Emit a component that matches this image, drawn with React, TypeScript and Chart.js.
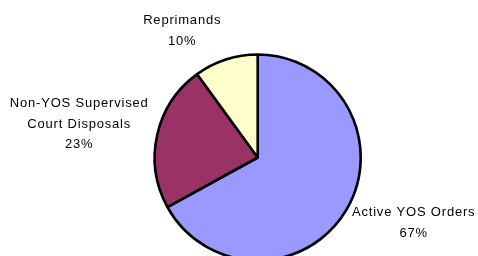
import React, { useEffect, useRef } from "react";
import { Chart, registerables } from "chart.js";

Chart.register(...registerables);

const categories = ["Active YOS Orders", "Non-YOS Supervised Court Disposals", "Reprimands"];
const labelLines = [["Active YOS Orders"], ["Non-YOS Supervised", "Court Disposals"], ["Reprimands"]];
const values = [67, 23, 10];
const colors = ["#9999FF", "#993366", "#FFFFCC"];

// label block centre (first line) relative to pie centre
const labelOffsets = [
  [156, 55],
  [-178.5, -54],
  [-75.5, -137],
];

const labelPlugin = {
  id: "pieLabels",
  afterDraw(chart: any) {
    const ctx = chart.ctx;
    const meta = chart.getDatasetMeta(0);
    const total = values.reduce((a, b) => a + b, 0);
    ctx.save();
    ctx.font = "13px 'Liberation Sans', Arial, sans-serif";
    (ctx as any).letterSpacing = "0.8px";
    ctx.fillStyle = "#000";
    ctx.textAlign = "center";
    ctx.textBaseline = "middle";
    meta.data.forEach((arc: any, i: number) => {
      const cx = arc.x + labelOffsets[i][0];
      let cy = arc.y + labelOffsets[i][1];
      const lines = [...labelLines[i], Math.round((values[i] / total) * 100) + "%"];
      lines.forEach((t) => {
        ctx.fillText(t, cx, cy);
        cy += 20.7;
      });
    });
    ctx.restore();
  },
};

export default function App() {
  const ref = useRef<HTMLCanvasElement>(null);
  useEffect(() => {
    const chart = new Chart(ref.current!, {
      type: "pie",
      data: {
        labels: categories,
        datasets: [
          {
            data: values,
            backgroundColor: colors,
            borderColor: "#000",
            borderWidth: 2.6,
            clip: false,
          } as any,
        ],
      },
      options: {
        responsive: false,
        animation: false,
        radius: 103,
        layout: { padding: { left: 37.4, top: 59, right: 0, bottom: 0 } },
        plugins: { legend: { display: false }, tooltip: { enabled: false } },
      } as any,
      plugins: [labelPlugin],
    });
    return () => chart.destroy();
  }, []);
  return (
    <div style={{ position: "fixed", left: 0, top: 0, width: 478, height: 256, background: "#fff" }}>
      <canvas ref={ref} width={478} height={256} style={{ display: "block" }} />
    </div>
  );
}
